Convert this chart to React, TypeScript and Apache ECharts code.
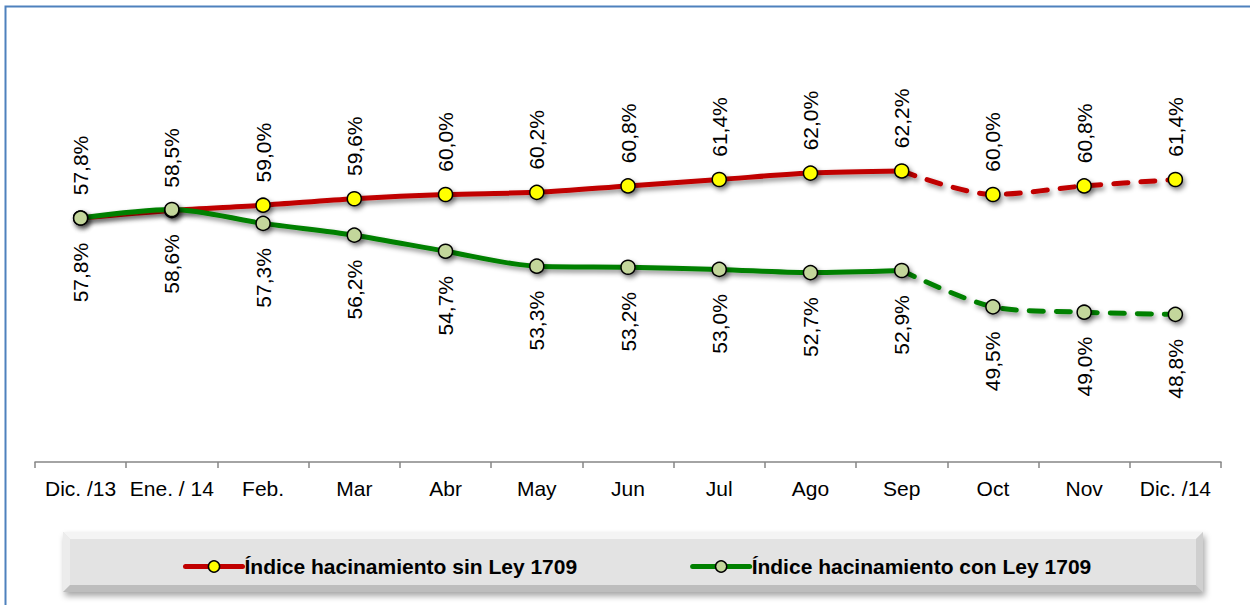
import React, { useEffect, useRef } from "react";
import * as echarts from "echarts";

const categories = ["Dic. /13", "Ene. / 14", "Feb.", "Mar", "Abr", "May", "Jun", "Jul", "Ago", "Sep", "Oct", "Nov", "Dic. /14"];
const sinLey = [57.8, 58.5, 59.0, 59.6, 60.0, 60.2, 60.8, 61.4, 62.0, 62.2, 60.0, 60.8, 61.4];
const conLey = [57.8, 58.6, 57.3, 56.2, 54.7, 53.3, 53.2, 53.0, 52.7, 52.9, 49.5, 49.0, 48.8];
const splitIndex = 9; // last solid point (Sep)
const nameSin = "Índice hacinamiento sin Ley 1709";
const nameCon = "Índice hacinamiento con Ley 1709";

const RED = "#C00000";
const GREEN = "#008000";
const YELLOW = "#FFFF00";
const LIGHTGREEN = "#C3D69B";
const FONT = "Liberation Sans, Arial, sans-serif";

const fmt = (p: any) => {
  const v = Array.isArray(p.value) ? p.value[1] : p.value;
  return Number(v).toFixed(1).replace(".", ",") + "%";
};

function buildSeries(name: string, values: number[], lineColor: string, fill: string, above: boolean, dist: number) {
  const solid = values.map((v, i) => (i <= splitIndex ? v : "-"));
  const dashed = values.map((v, i) =>
    i < splitIndex ? "-" : i === splitIndex ? { value: v, symbol: "none", label: { show: false } } : v
  );
  const shadow = {
    shadowColor: "rgba(0,0,0,0.45)",
    shadowBlur: 5,
    shadowOffsetX: 2,
    shadowOffsetY: 3,
  };
  const label = {
    show: true,
    position: above ? "top" : "bottom",
    distance: dist,
    rotate: 90,
    align: above ? "left" : "right",
    verticalAlign: "middle",
    fontSize: 21,
    fontFamily: FONT,
    color: "#000",
    formatter: fmt,
  };
  const base = {
    type: "line",
    smooth: 0.3,
    symbol: "circle",
    symbolSize: 14,
    itemStyle: { color: fill, borderColor: "#000", borderWidth: 1.5, ...shadow },
    label,
    emphasis: { disabled: true },
  };
  return [
    {
      ...base,
      name,
      data: solid,
      lineStyle: { color: lineColor, width: 5, ...shadow },
    },
    {
      ...base,
      name: name + " (proy.)",
      data: dashed,
      lineStyle: { color: lineColor, width: 5, type: [14, 13], cap: "round", ...shadow },
    },
  ];
}

export default function App() {
  const ref = useRef<HTMLDivElement>(null);
  useEffect(() => {
    if (!ref.current) return;
    const chart = echarts.init(ref.current, null, { renderer: "svg" });
    const bx = 63, by = 532, bw = 1140, bh = 60, bv = 7;
    chart.setOption({
      animation: false,
      backgroundColor: "#fff",
      textStyle: { fontFamily: FONT },
      grid: { left: 35, right: 29, top: 34, bottom: 143, containLabel: false },
      xAxis: {
        type: "category",
        data: categories,
        boundaryGap: true,
        axisLine: { lineStyle: { color: "#868686", width: 1.5 } },
        axisTick: { show: true, length: 6, lineStyle: { color: "#868686", width: 1.5 } },
        axisLabel: { color: "#000", fontSize: 21, fontFamily: FONT, margin: 16, interval: 0 },
      },
      yAxis: {
        type: "value",
        min: 35,
        max: 75,
        show: false,
      },
      legend: {
        data: [nameSin, nameCon],
        left: 178,
        top: 551,
        itemWidth: 57,
        itemHeight: 14,
        itemGap: 113,
        lineStyle: { width: 5, cap: "round", shadowBlur: 0 },
        itemStyle: { borderWidth: 1.5, borderColor: "#000", shadowBlur: 0 },
        textStyle: { fontSize: 21, fontWeight: "bold", color: "#000", fontFamily: FONT, padding: [0, 0, 0, -3] },
        selectedMode: false,
      },
      graphic: [
        {
          type: "rect",
          shape: { x: 5.5, y: 6.5, width: 1300, height: 700 },
          style: { fill: "none", stroke: "#4F81BD", lineWidth: 2 },
          silent: true,
          z: -10,
        },
        {
          type: "group",
          z: -5,
          silent: true,
          children: [
            {
              type: "rect",
              shape: { x: bx, y: by, width: bw, height: bh },
              style: {
                fill: "#E3E3E3",
                shadowColor: "rgba(0,0,0,0.35)",
                shadowBlur: 6,
                shadowOffsetX: 2,
                shadowOffsetY: 4,
              },
            },
            {
              type: "polygon",
              shape: { points: [[bx, by], [bx + bw, by], [bx + bw - bv, by + bv], [bx + bv, by + bv]] },
              style: { fill: "#F4F4F4" },
            },
            {
              type: "polygon",
              shape: { points: [[bx, by], [bx + bv, by + bv], [bx + bv, by + bh - bv], [bx, by + bh]] },
              style: { fill: "#ECECEC" },
            },
            {
              type: "polygon",
              shape: { points: [[bx + bw, by], [bx + bw, by + bh], [bx + bw - bv, by + bh - bv], [bx + bw - bv, by + bv]] },
              style: { fill: "#CFCFCF" },
            },
            {
              type: "polygon",
              shape: { points: [[bx, by + bh], [bx + bv, by + bh - bv], [bx + bw - bv, by + bh - bv], [bx + bw, by + bh]] },
              style: { fill: "#BDBDBD" },
            },
          ],
        },
      ],
      series: [
        ...buildSeries(nameSin, sinLey, RED, YELLOW, true, 15),
        ...buildSeries(nameCon, conLey, GREEN, LIGHTGREEN, false, 17),
      ],
    });
    return () => chart.dispose();
  }, []);
  return (
    <div
      ref={ref}
      style={{ position: "fixed", left: 0, top: 0, width: 1250, height: 605 }}
    />
  );
}
